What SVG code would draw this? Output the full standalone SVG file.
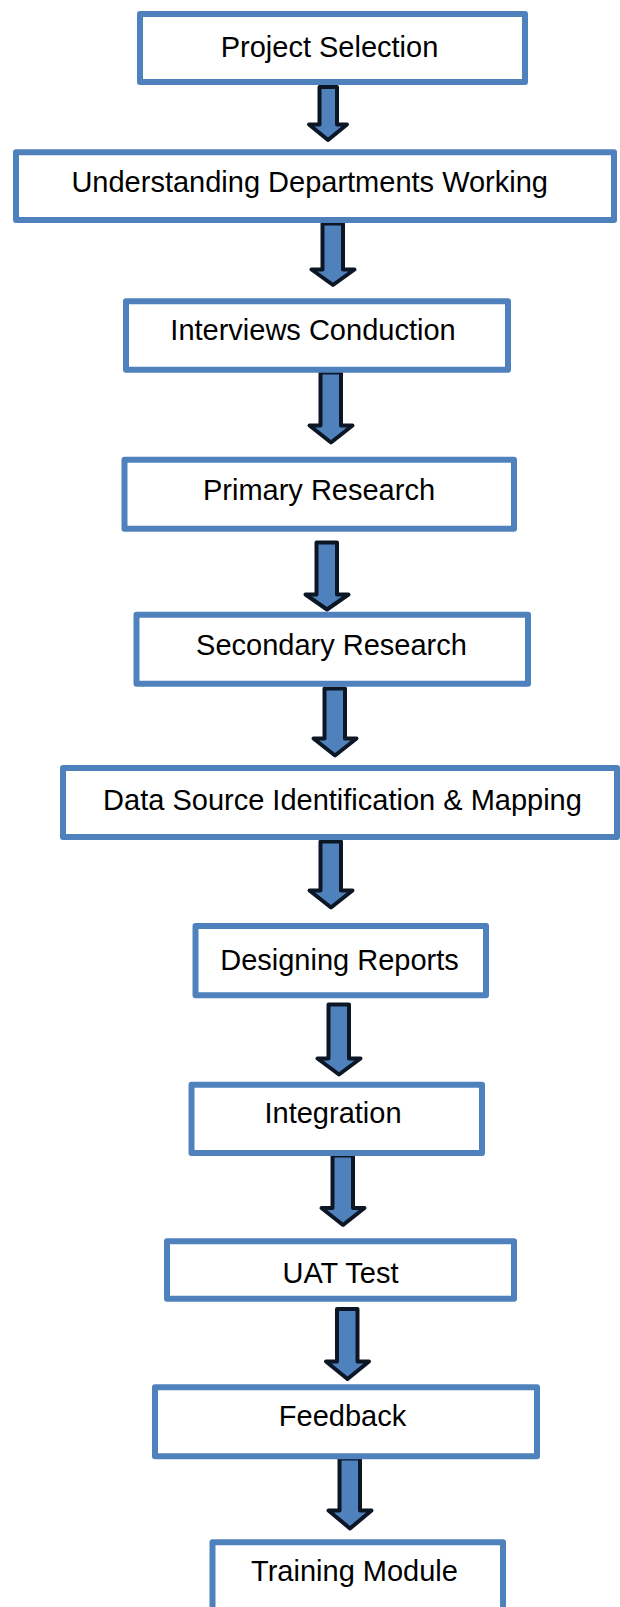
<svg xmlns="http://www.w3.org/2000/svg" width="620" height="1607" viewBox="0 0 620 1607">
<style>
.box{fill:#ffffff;stroke:#4F81BD;stroke-width:6;stroke-linejoin:round}
.lbl{font-family:"Liberation Sans",Arial,sans-serif;font-size:29px;fill:#000000;text-anchor:middle}
.arr{fill:#4F81BD;stroke:#0C1624;stroke-width:4;stroke-linejoin:round}
</style>
<rect width="620" height="1607" fill="#ffffff"/>
<g id="connectors">
<path class="arr" d="M319.5,87 H337 V124.5 H347 L328,140 L309,124.5 H319.5 Z"/>
<path class="arr" d="M322.5,223.5 H343 V269.5 H354.5 L333,285 L311.5,269.5 H322.5 Z"/>
<path class="arr" d="M320.5,372.5 H341 V425.5 H352.5 L331,442.5 L309.5,425.5 H320.5 Z"/>
<path class="arr" d="M316.5,542.5 H337 V594.5 H348.5 L327,609.5 L305.5,594.5 H316.5 Z"/>
<path class="arr" d="M324.5,688.5 H345 V738.5 H356.5 L335,755.5 L313.5,738.5 H324.5 Z"/>
<path class="arr" d="M320.5,841.5 H341 V890.5 H352.5 L331,907.5 L309.5,890.5 H320.5 Z"/>
<path class="arr" d="M328.5,1004.5 H349 V1058.5 H360.5 L339,1074.5 L317.5,1058.5 H328.5 Z"/>
<path class="arr" d="M332.5,1155.5 H353 V1208 H364.5 L343,1225 L321.5,1208 H332.5 Z"/>
<path class="arr" d="M337,1309 H357.5 V1361.5 H369 L347.5,1379 L326,1361.5 H337 Z"/>
<path class="arr" d="M339.5,1458.5 H360 V1510.5 H371.5 L350,1528.5 L328.5,1510.5 H339.5 Z"/>
</g>
<g id="n1"><rect class="box" x="140" y="14" width="385" height="68"/><text class="lbl" x="329.5" y="56.5">Project Selection</text></g>
<g id="n2"><rect class="box" x="16" y="152.3" width="598" height="67.7"/><text class="lbl" x="309.7" y="191.5">Understanding Departments Working</text></g>
<g id="n3"><rect class="box" x="126" y="301.3" width="382" height="68.4"/><text class="lbl" x="313" y="340">Interviews Conduction</text></g>
<g id="n4"><rect class="box" x="124.5" y="459.7" width="389.5" height="69"/><text class="lbl" x="319" y="500">Primary Research</text></g>
<g id="n5"><rect class="box" x="136.5" y="614.7" width="391.5" height="69"/><text class="lbl" x="331.5" y="655">Secondary Research</text></g>
<g id="n6"><rect class="box" x="63" y="768" width="554" height="69"/><text class="lbl" x="342.5" y="810">Data Source Identification &amp; Mapping</text></g>
<g id="n7"><rect class="box" x="195.5" y="926" width="290.5" height="69.3"/><text class="lbl" x="339.5" y="970">Designing Reports</text></g>
<g id="n8"><rect class="box" x="191.5" y="1084.7" width="290.5" height="68.3"/><text class="lbl" x="333" y="1123">Integration</text></g>
<g id="n9"><rect class="box" x="167" y="1241.3" width="347" height="57.4"/><text class="lbl" x="340.5" y="1282.5">UAT Test</text></g>
<g id="n10"><rect class="box" x="155" y="1387.3" width="382" height="69"/><text class="lbl" x="342.5" y="1426">Feedback</text></g>
<g id="n11"><rect class="box" x="212.5" y="1542.3" width="290.5" height="80"/><text class="lbl" x="354.5" y="1581">Training Module</text></g>
</svg>
